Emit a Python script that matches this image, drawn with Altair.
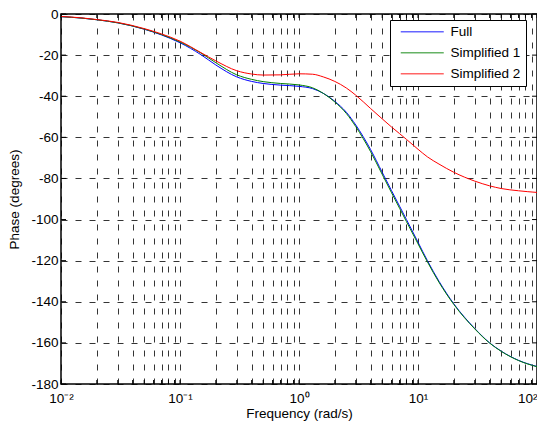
import altair as alt
import pandas as pd

freq = [0.01, 0.015, 0.02, 0.03, 0.05, 0.07, 0.1, 0.15, 0.2, 0.3, 0.4, 0.5, 0.7, 1.0, 1.3, 1.6,
        2.0, 2.5, 3.0, 4.0, 5.0, 6.0, 7.0, 8.0, 10, 12, 15, 20, 30, 40, 50, 70, 100]
full = [-1.3, -2.0, -2.8, -4.3, -7.4, -10.2, -14.0, -19.8, -24.8, -30.6, -32.8, -33.8, -34.6, -35.2,
        -36.3, -38.6, -42.5, -47.8, -54.0, -66.0, -77.0, -86.0, -93.5, -100.0, -111.0, -120.0,
        -130.0, -141.0, -153.0, -160.0, -164.0, -168.5, -171.5]
simp1 = [-1.3, -2.0, -2.8, -4.3, -7.3, -10.0, -13.6, -19.0, -23.7, -29.6, -31.8, -32.9, -33.8, -34.5,
         -35.9, -38.6, -42.8, -48.4, -54.8, -67.0, -78.0, -87.0, -94.5, -101.0, -111.8, -120.6,
         -130.5, -141.3, -153.2, -160.1, -164.1, -168.6, -171.6]
simp2 = [-1.2, -1.9, -2.7, -4.1, -7.1, -9.7, -13.2, -18.8, -22.8, -27.6, -29.2, -29.7, -29.6, -29.1,
         -29.3, -30.6, -32.8, -36.0, -39.5, -46.0, -51.0, -55.0, -58.2, -61.0, -65.8, -69.5,
         -73.0, -77.0, -81.3, -83.6, -84.9, -86.0, -86.8]
series_names = ["Full", "Simplified 1", "Simplified 2"]
series_colors = ["#0000ff", "#008000", "#ff0000"]

x_ticks = [m * 10.0 ** e for e in range(-2, 2) for m in range(1, 10)] + [100.0]
y_ticks = list(range(-180, 1, 20))

W, H = 476, 370
FONT = "Liberation Sans"
FS = 13.5

rows = []
for name, vals in zip(series_names, [full, simp1, simp2]):
    for f, v in zip(freq, vals):
        rows.append({"freq": f, "phase": v, "series": name})
df = pd.DataFrame(rows)

xscale = alt.Scale(type="log", domain=[0.01, 100], nice=False)
yscale = alt.Scale(domain=[-180, 0], nice=False, zero=False)
cscale = alt.Scale(domain=series_names, range=series_colors)

label_expr = ("datum.value < 0.011 ? '10⁻²' : datum.value > 0.099 && datum.value < 0.101 ? '10⁻¹' : "
              "datum.value > 0.99 && datum.value < 1.01 ? '10⁰' : datum.value > 9.9 && datum.value < 10.1 ? '10¹' : "
              "datum.value > 99 ? '10²' : ''")

xaxis = alt.Axis(values=x_ticks, labelExpr=label_expr, title="Frequency (rad/s)", grid=True,
                 gridDash=[6, 8], gridColor="#000000", gridOpacity=1, gridWidth=0.8,
                 ticks=False, domain=False, labelPadding=7, labelFontSize=FS, titleFontSize=FS,
                 labelFont=FONT, titleFont=FONT, labelColor="#000", titleColor="#000",
                 titlePadding=2, titleFontWeight="normal", labelFlush=False, labelOverlap=False,
                 labelAlign=alt.ExprRef("datum.value > 99 ? 'right' : 'center'"))
yaxis = alt.Axis(values=y_ticks, labelExpr="datum.value == 0 ? '0' : '-' + abs(datum.value)",
                 title="Phase (degrees)", grid=True, gridDash=[6, 8], gridColor="#000000",
                 gridOpacity=1, gridWidth=0.8, ticks=False, domain=False, labelPadding=3,
                 labelFontSize=FS, titleFontSize=FS, labelFont=FONT, titleFont=FONT,
                 labelColor="#000", titleColor="#000", titlePadding=9, titleFontWeight="normal",
                 labelFlush=False)

legend = alt.Legend(title=None, orient="none", legendX=329, legendY=6,
                    symbolType="M-4.3,0H4.3", symbolSize=100, symbolStrokeWidth=1.5,
                    symbolOffset=20.5, labelOffset=21.5,
                    labelFontSize=FS, labelFont=FONT, labelColor="#000",
                    strokeColor="#000", fillColor="#fff", padding=5,
                    rowPadding=6, symbolOpacity=0.6)

layers = []
for i, name in enumerate(series_names):
    enc = dict(
        x=alt.X("freq:Q", scale=xscale, axis=xaxis),
        y=alt.Y("phase:Q", scale=yscale, axis=yaxis),
        color=alt.Color("series:N", scale=cscale, legend=legend if i == 0 else None),
    )
    layers.append(alt.Chart(df).transform_filter(alt.datum.series == name)
                  .mark_line(strokeWidth=1, interpolate="monotone", clip=True).encode(**enc))

xt = pd.DataFrame({"freq": x_ticks})
yt = pd.DataFrame({"phase": y_ticks})

tick_top = alt.Chart(xt).mark_rule(color="#000", strokeWidth=1).encode(
    x=alt.X("freq:Q", scale=xscale, axis=xaxis), y=alt.value(0), y2=alt.value(4))
tick_bot = alt.Chart(xt).mark_rule(color="#000", strokeWidth=1).encode(
    x=alt.X("freq:Q", scale=xscale, axis=xaxis), y=alt.value(H), y2=alt.value(H - 4))
tick_l = alt.Chart(yt).mark_rule(color="#000", strokeWidth=1).encode(
    y=alt.Y("phase:Q", scale=yscale, axis=yaxis), x=alt.value(0), x2=alt.value(5))
tick_r = alt.Chart(yt).mark_rule(color="#000", strokeWidth=1).encode(
    y=alt.Y("phase:Q", scale=yscale, axis=yaxis), x=alt.value(W), x2=alt.value(W - 5))

chart = alt.layer(*layers, tick_top, tick_bot, tick_l, tick_r).properties(
    width=W, height=H,
    autosize=alt.AutoSizeParams(type="none"),
    padding={"left": 53, "top": 6, "right": 0, "bottom": 38},
    background="white",
).configure_view(stroke="#000", strokeWidth=1.5)

chart.save("out.html", embed_options={"renderer": "svg", "actions": False})
